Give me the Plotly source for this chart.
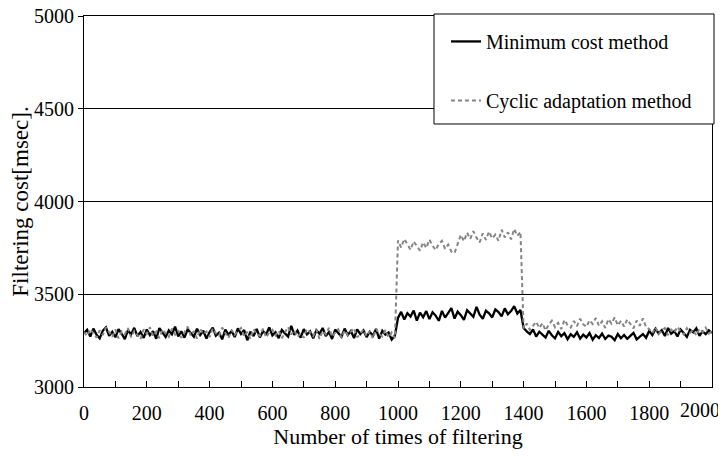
import plotly.graph_objects as go

# Number of times of filtering (sampled every 10 iterations)
iterations = list(range(0, 2001, 10))

# Minimum cost method [msec]
min_cost = [
    3290, 3308, 3272, 3315, 3281, 3262, 3304, 3322, 3276, 3298,
    3268, 3312, 3287, 3258, 3306, 3283, 3319, 3274, 3297, 3265,
    3310, 3279, 3301, 3260, 3317, 3290, 3270, 3305, 3284, 3325,
    3273, 3300, 3266, 3311, 3288, 3271, 3314, 3280, 3303, 3261,
    3296, 3320, 3277, 3293, 3257, 3309, 3282, 3302, 3269, 3316,
    3286, 3307, 3252, 3299, 3275, 3313, 3267, 3301, 3284, 3321,
    3278, 3295, 3263, 3308, 3289, 3272, 3330, 3281, 3304, 3266,
    3312, 3283, 3300, 3262, 3306, 3287, 3318, 3274, 3296, 3259,
    3310, 3290, 3271, 3315, 3280, 3302, 3264, 3311, 3285, 3305,
    3269, 3298, 3277, 3313, 3261, 3303, 3282, 3294, 3256, 3276,
    3372, 3405, 3364, 3398, 3380, 3412, 3358, 3401, 3376, 3409,
    3366, 3403, 3385, 3357, 3410, 3374, 3399, 3425, 3369, 3406,
    3387, 3362, 3414, 3395, 3378, 3432, 3390, 3368, 3411, 3397,
    3375, 3418, 3404, 3381, 3424, 3392, 3409, 3436, 3396, 3415,
    3318, 3300, 3285, 3310, 3272, 3298, 3281, 3266, 3303, 3279,
    3262, 3297, 3274, 3290, 3258, 3284, 3270, 3295, 3261, 3282,
    3267, 3291, 3255, 3279, 3264, 3288, 3259, 3277, 3271, 3252,
    3286, 3263, 3280, 3260, 3276, 3292, 3257, 3273, 3285, 3265,
    3303, 3280, 3314, 3289, 3306, 3275, 3318, 3287, 3301, 3272,
    3310, 3291, 3270, 3308, 3294, 3316, 3276, 3300, 3285, 3305,
    3292,
]

# Cyclic adaptation method [msec]
cyclic = [
    3296, 3275, 3312, 3288, 3266, 3305, 3280, 3321, 3292, 3271,
    3309, 3262, 3300, 3285, 3317, 3268, 3303, 3278, 3258, 3311,
    3287, 3322, 3274, 3298, 3263, 3310, 3291, 3270, 3315, 3282,
    3306, 3265, 3294, 3326, 3277, 3301, 3261, 3313, 3286, 3299,
    3269, 3316, 3290, 3276, 3320, 3288, 3264, 3307, 3281, 3302,
    3318, 3272, 3297, 3260, 3312, 3285, 3276, 3314, 3267, 3295,
    3309, 3279, 3304, 3263, 3292, 3324, 3283, 3306, 3270, 3289,
    3266, 3313, 3296, 3274, 3310, 3259, 3302, 3284, 3319, 3271,
    3293, 3311, 3264, 3305, 3280, 3298, 3317, 3268, 3290, 3309,
    3275, 3301, 3261, 3314, 3286, 3272, 3307, 3267, 3294, 3263,
    3790, 3752, 3798, 3766, 3740, 3785, 3758, 3735, 3780, 3750,
    3795, 3762, 3738, 3772, 3788, 3745, 3768, 3730, 3722, 3776,
    3820, 3786, 3832, 3798, 3840, 3805, 3779, 3828, 3793, 3838,
    3801, 3822, 3788, 3848, 3806, 3834, 3796, 3852, 3815, 3836,
    3315, 3342, 3308, 3330, 3352, 3318, 3344, 3305, 3336, 3358,
    3322, 3346, 3312, 3362, 3334, 3320, 3356, 3328, 3368, 3338,
    3324, 3360, 3340, 3372, 3330, 3354, 3318, 3366, 3342, 3375,
    3332, 3357, 3326, 3364, 3340, 3316, 3358, 3330, 3370, 3322,
    3312, 3290, 3322, 3285, 3305, 3318, 3280, 3310, 3294, 3325,
    3300, 3283, 3317, 3292, 3308, 3278, 3314, 3296, 3320, 3288,
    3303,
]

x_tick_vals = [0, 200, 400, 600, 800, 1000, 1200, 1400, 1600, 1800, 2000]
x_tick_text = ["0", "200", "400", "600", "800", "1000", "1200", "1400", "1600", "1800", ""]
last_x_label = "2000"
y_tick_vals = [3000, 3500, 4000, 4500, 5000]

FONT = "Times New Roman, Liberation Serif, DejaVu Serif, serif"

fig = go.Figure()
fig.add_trace(go.Scatter(
    x=iterations, y=min_cost, mode="lines", name="Minimum cost method",
    line=dict(color="black", width=2.3), legendgroup="a",
))
fig.add_trace(go.Scatter(
    x=iterations, y=cyclic, mode="lines", name="Cyclic adaptation method",
    line=dict(color="#858585", width=2, dash="4px,3px"), legendgroup="b",
))

# legend frame
fig.add_shape(
    type="rect", xref="paper", yref="paper",
    x0=0.5573, x1=1.0032, y0=0.7089, y1=1.0054,
    fillcolor="white", line=dict(color="black", width=1), layer="above",
)

# last x tick label, pulled in from the right edge as in the original
fig.add_annotation(
    x=x_tick_vals[-1], xref="x", y=0, yref="paper",
    text=last_x_label, showarrow=False, xanchor="center", yanchor="top",
    xshift=-12, yshift=-10, font=dict(family=FONT, size=20, color="black"),
)

# the page body adds an 8px offset, so margins are shifted to compensate
fig.update_layout(
    width=726, height=456,
    margin=dict(l=76, r=22, t=8, b=77),
    paper_bgcolor="white", plot_bgcolor="white",
    font=dict(family=FONT, color="black", size=20),
    showlegend=True,
    legend=dict(
        x=0.5764, y=0.984, xanchor="left", yanchor="top",
        bgcolor="rgba(0,0,0,0)", borderwidth=0,
        font=dict(family=FONT, size=20, color="black"),
        tracegroupgap=30, itemwidth=30,
    ),
    xaxis=dict(
        range=[0, 2000], tickvals=x_tick_vals, ticktext=x_tick_text,
        ticks="inside", ticklen=6, tickcolor="black",
        minor=dict(dtick=100, ticks="inside", ticklen=6, tickcolor="black"),
        showline=True, linecolor="black", linewidth=1, mirror=True,
        showgrid=False, zeroline=False, automargin=False,
        ticklabeloverflow="allow", ticklabelstandoff=8,
        tickfont=dict(family=FONT, size=20),
        title=dict(text="Number of times of filtering", font=dict(family=FONT, size=22), standoff=2),
    ),
    yaxis=dict(
        range=[3000, 5000], tickvals=y_tick_vals,
        ticks="outside", ticklen=5, tickcolor="black",
        showline=True, linecolor="black", linewidth=1, mirror=True,
        showgrid=True, gridcolor="black", gridwidth=1, zeroline=False,
        automargin=False, ticklabeloverflow="allow",
        tickfont=dict(family=FONT, size=20),
        title=dict(text="Filtering cost[msec].", font=dict(family=FONT, size=23), standoff=10),
    ),
)

fig.write_html("out.html")
